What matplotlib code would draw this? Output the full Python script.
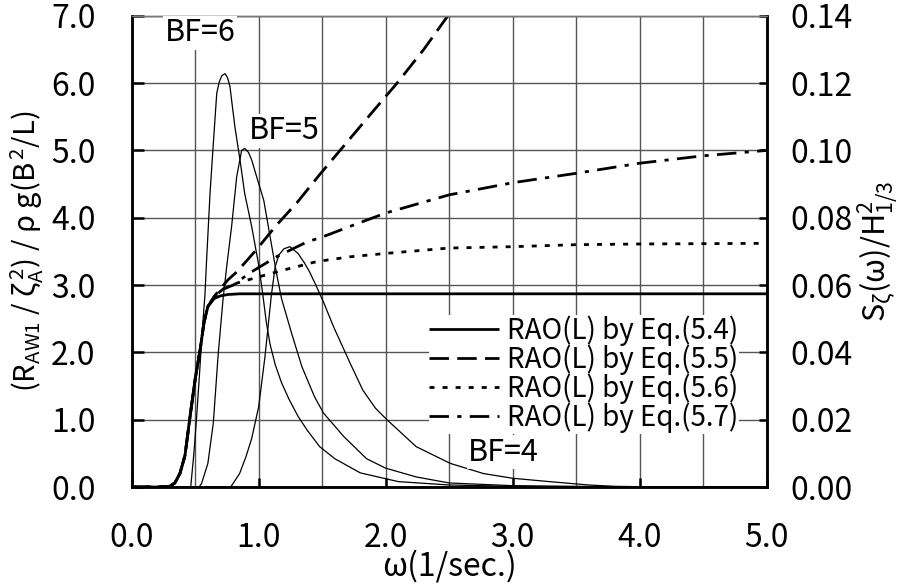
import matplotlib
matplotlib.use('Agg')
import matplotlib.pyplot as plt
import numpy as np

plt.rcParams['font.family'] = ['Noto Sans CJK JP', 'DejaVu Sans']
plt.rcParams['mathtext.fontset'] = 'custom'
plt.rcParams['mathtext.rm'] = 'Noto Sans CJK JP'
plt.rcParams['mathtext.it'] = 'Noto Sans CJK JP'
plt.rcParams['mathtext.bf'] = 'Noto Sans CJK JP'

# common low-frequency rise of the RAO curves (left axis units)
rise_w = [0.0, 0.2, 0.3, 0.34, 0.38, 0.42, 0.46, 0.5, 0.54, 0.57, 0.6]
rise_v = [0.0, 0.0, 0.01, 0.06, 0.2, 0.47, 1.05, 1.6, 2.05, 2.45, 2.68]

# RAO(L) by Eq.(5.4)
eq54_w = rise_w + [0.65, 0.7, 0.76, 0.85, 1.5, 3.0, 5.0]
eq54_v = rise_v + [2.8, 2.84, 2.86, 2.87, 2.87, 2.87, 2.87]
# RAO(L) by Eq.(5.5)
eq55_w = rise_w + [0.65, 0.7, 0.76, 0.83, 0.98, 1.14, 1.30, 1.48, 1.69, 1.9, 2.09, 2.3, 2.49, 2.6]
eq55_v = rise_v + [2.83, 2.95, 3.08, 3.2, 3.52, 3.89, 4.22, 4.64, 5.11, 5.58, 6.0, 6.5, 7.0, 7.27]
# RAO(L) by Eq.(5.6)
eq56_w = rise_w + [0.65, 0.72, 0.83, 0.96, 1.19, 1.46, 1.72, 2.0, 2.5, 3.0, 3.5, 4.0, 5.0]
eq56_v = rise_v + [2.83, 2.94, 3.03, 3.10, 3.22, 3.35, 3.42, 3.47, 3.55, 3.57, 3.60, 3.61, 3.62]
# RAO(L) by Eq.(5.7)
eq57_w = rise_w + [0.65, 0.72, 0.80, 0.93, 1.14, 1.38, 1.51, 1.745, 2.0, 2.5, 3.0, 3.5, 4.0, 4.5, 5.0]
eq57_v = rise_v + [2.83, 2.94, 3.0, 3.18, 3.42, 3.64, 3.72, 3.89, 4.07, 4.34, 4.52, 4.66, 4.81, 4.92, 5.0]

# wave spectra S(w)/H^2 (right axis units)
bf6_w = [0.0, 0.465, 0.49, 0.51, 0.535, 0.555, 0.577, 0.59, 0.617, 0.643, 0.67, 0.69, 0.71, 0.735,
         0.755, 0.774, 0.79, 0.813, 0.853, 0.89, 0.945, 1.0, 1.03, 1.06, 1.09, 1.13, 1.18, 1.24, 1.31,
         1.38, 1.48, 1.6, 1.8, 2.1, 2.5, 3.0, 3.5, 5.0]
bf6_s = [0.0, 0.0, 0.010, 0.020, 0.034, 0.046, 0.057, 0.0674, 0.0872, 0.102, 0.117, 0.1204, 0.1222,
         0.1228, 0.1216, 0.119, 0.114, 0.107, 0.0972, 0.0872, 0.0774, 0.066, 0.058, 0.049, 0.0424,
         0.0364, 0.031, 0.026, 0.021, 0.017, 0.012, 0.0084, 0.0042, 0.0016, 0.0006, 0.0002, 0.0, 0.0]
bf5_w = [0.0, 0.53, 0.55, 0.6, 0.643, 0.68, 0.72, 0.75, 0.787, 0.827, 0.866, 0.89, 0.92, 0.945, 0.984,
         1.04, 1.09, 1.14, 1.18, 1.26, 1.34, 1.44, 1.51, 1.67, 1.85, 2.0, 2.24, 2.5, 3.0, 3.5, 4.2, 5.0]
bf5_s = [0.0, 0.0, 0.001, 0.007, 0.019, 0.0388, 0.056, 0.066, 0.0774, 0.0922, 0.100, 0.1006, 0.0994,
         0.0972, 0.0922, 0.0852, 0.0744, 0.0636, 0.056, 0.0456, 0.0358, 0.0268, 0.022, 0.015, 0.0084,
         0.0056, 0.003, 0.0012, 0.0004, 0.0002, 0.0, 0.0]
bf4_w = [0.0, 0.78, 0.85, 0.90, 0.945, 1.0, 1.05, 1.10, 1.13, 1.16, 1.20, 1.246, 1.31, 1.36, 1.40,
         1.45, 1.51, 1.59, 1.72, 1.82, 1.92, 2.01, 2.24, 2.51, 2.77, 3.0, 3.29, 3.6, 3.8, 4.2, 5.0]
bf4_s = [0.0, 0.0, 0.004, 0.009, 0.0144, 0.0238, 0.0388, 0.057, 0.0654, 0.0690, 0.0708, 0.0714,
         0.0694, 0.0666, 0.064, 0.060, 0.055, 0.0476, 0.0368, 0.0288, 0.0234, 0.020, 0.012, 0.007,
         0.004, 0.0026, 0.0016, 0.0006, 0.0002, 0.0, 0.0]

legend_labels = ['RAO(L) by Eq.(5.4)', 'RAO(L) by Eq.(5.5)', 'RAO(L) by Eq.(5.6)', 'RAO(L) by Eq.(5.7)']
bf_labels = ['BF=6', 'BF=5', 'BF=4']
bf_pos = [(0.54, 0.135), (1.2, 0.1058), (2.93, 0.0104)]

x_ticks = [0, 1, 2, 3, 4, 5]
y_ticks = [0, 1, 2, 3, 4, 5, 6, 7]
y2_ticks = [0.0, 0.02, 0.04, 0.06, 0.08, 0.10, 0.12, 0.14]

fig = plt.figure(figsize=(9.03, 5.85), dpi=100)
ax = fig.add_axes([0.1458, 0.1675, 0.7032, 0.8055])
ax2 = ax.twinx()

lw = 2.0
l1, = ax.plot(eq54_w, eq54_v, color='black', lw=lw, solid_capstyle='butt')
l2, = ax.plot(eq55_w, eq55_v, color='black', lw=lw, dashes=[7, 3])
l3, = ax.plot(eq56_w, eq56_v, color='black', lw=lw, dashes=[1.8, 2.9])
l4, = ax.plot(eq57_w, eq57_v, color='black', lw=lw, dashes=[7, 3, 1.5, 3])

for w, s in [(bf6_w, bf6_s), (bf5_w, bf5_s), (bf4_w, bf4_s)]:
    ax2.plot(w, s, color='black', lw=0.9)

ax.set_xlim(0, 5)
ax.set_ylim(0, 7)
ax2.set_ylim(0, 0.14)
ax.set_xticks(x_ticks)
ax.set_xticklabels([f'{v:.1f}' for v in x_ticks])
ax.set_xticks(np.arange(0.5, 5, 1.0), minor=True)
ax.set_yticks(y_ticks)
ax.set_yticklabels([f'{v:.1f}' for v in y_ticks])
ax2.set_yticks(y2_ticks)
ax2.set_yticklabels([f'{v:.2f}' for v in y2_ticks])

ax.grid(True, which='both', axis='x', color='#555555', lw=1.0)
ax.grid(True, which='major', axis='y', color='#555555', lw=1.0)
ax.set_axisbelow(True)

ax.tick_params(axis='x', which='major', direction='in', length=6.5, width=1.8, pad=25, labelsize=23)
ax.tick_params(axis='x', which='minor', length=0)
ax.tick_params(axis='y', direction='in', length=8.5, width=1.8, pad=26, labelsize=23)
ax2.tick_params(axis='y', direction='in', length=6, width=1.8, pad=17, labelsize=23)

for a in (ax, ax2):
    for side in ('left', 'right', 'bottom'):
        a.spines[side].set_linewidth(1.8)
    a.spines['top'].set_linewidth(1.0)
    a.spines['top'].set_color('#777777')

ax.set_xlabel('ω(1/sec.)', fontsize=23)
ax.xaxis.set_label_coords(0.5, -0.133)
ax.set_ylabel(r'(R$_{\mathrm{AW1}}$ / ζ$_{\mathrm{A}}^{\,2}$) / ρ g(B$^{\,2}$/L)', fontsize=21)
ax.yaxis.set_label_coords(-0.135, 0.5)
ax2.set_ylabel(r'S$_{ζ}$(ω)/H$^{2}_{1/3}$', fontsize=22)
ax2.yaxis.set_label_coords(1.14, 0.5)

for text, (x, y) in zip(bf_labels, bf_pos):
    ax2.text(x, y, text, fontsize=22, ha='center', va='center',
             bbox=dict(facecolor='white', edgecolor='none', pad=1))

leg = ax2.legend([l1, l2, l3, l4], legend_labels, loc='lower left',
                 bbox_to_anchor=(0.468, 0.113), fontsize=20, frameon=True,
                 fancybox=False, framealpha=1, edgecolor='none', facecolor='white',
                 handlelength=2.5, handletextpad=0.3, labelspacing=-0.05,
                 borderpad=0.02, borderaxespad=0)

fig.savefig('out.png', dpi=100)
